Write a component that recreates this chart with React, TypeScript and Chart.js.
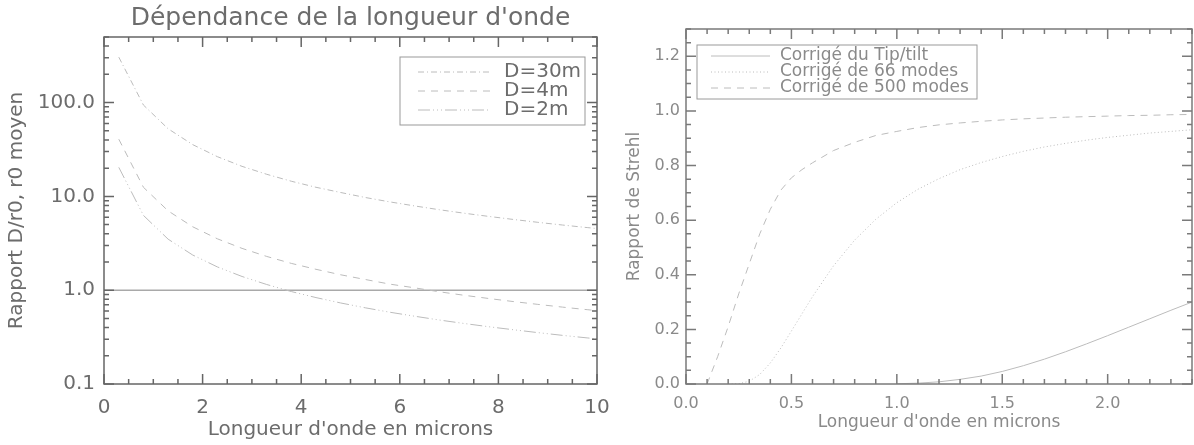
import React, { useEffect, useRef } from "react";
import { Chart, registerables } from "chart.js";
Chart.register(...registerables);

// ---------- Left panel: D/r0 vs wavelength ----------
const LEFT_TITLE = "Dépendance de la longueur d'onde";
const LAMBDA_LEFT = [0.3, 0.8, 1.3, 1.8, 2.3, 2.8, 3.3, 3.8, 4.3, 4.8, 5.3, 5.8, 6.3, 6.8, 7.3, 7.8, 8.3, 8.8, 9.3, 9.8, 10.0];
const D30 = [305, 94.1, 52.6, 35.6, 26.5, 20.9, 17.2, 14.5, 12.5, 11.0, 9.73, 8.73, 7.91, 7.21, 6.62, 6.12, 5.68, 5.29, 4.95, 4.65, 4.54];
const D4 = [40.7, 12.5, 7.01, 4.74, 3.53, 2.79, 2.29, 1.93, 1.67, 1.46, 1.3, 1.16, 1.06, 0.962, 0.883, 0.816, 0.757, 0.706, 0.66, 0.62, 0.606];
const D2 = [20.4, 6.27, 3.5, 2.37, 1.77, 1.4, 1.15, 0.967, 0.834, 0.731, 0.649, 0.582, 0.528, 0.481, 0.442, 0.408, 0.379, 0.353, 0.33, 0.31, 0.303];
const UNITY_X = [0, 10];
const UNITY_Y = [1, 1];
const LEFT_LABELS = ["D=30m", "D=4m", "D=2m"];
const LEFT_X_TICKS = [0, 2, 4, 6, 8, 10];
const LEFT_X_TICK_LABELS = ["0", "2", "4", "6", "8", "10"];
const LEFT_Y_TICKS = [0.1, 1, 10, 100];
const LEFT_Y_TICK_LABELS = ["0.1", "1.0", "10.0", "100.0"];
const LEFT_X_TITLE = "Longueur d'onde en microns";
const LEFT_Y_TITLE = "Rapport D/r0, r0 moyen";

// ---------- Right panel: Strehl vs wavelength ----------
const LAMBDA_TT = [1.0, 1.1, 1.2, 1.3, 1.4, 1.5, 1.6, 1.7, 1.8, 1.9, 2.0, 2.1, 2.2, 2.3, 2.4];
const S_TT = [0.001, 0.003, 0.008, 0.017, 0.029, 0.046, 0.067, 0.091, 0.118, 0.147, 0.177, 0.208, 0.239, 0.27, 0.3];
const LAMBDA_66 = [0.2, 0.25, 0.3, 0.35, 0.4, 0.45, 0.5, 0.6, 0.7, 0.8, 0.9, 1.0, 1.1, 1.2, 1.3, 1.4, 1.5, 1.6, 1.7, 1.8, 1.9, 2.0, 2.1, 2.2, 2.3, 2.4];
const S_66 = [0, 0.001, 0.01, 0.035, 0.077, 0.132, 0.194, 0.32, 0.433, 0.527, 0.603, 0.664, 0.713, 0.752, 0.785, 0.811, 0.833, 0.852, 0.868, 0.881, 0.893, 0.903, 0.911, 0.919, 0.925, 0.931];
const LAMBDA_500 = [0.1, 0.15, 0.2, 0.25, 0.3, 0.35, 0.4, 0.45, 0.5, 0.55, 0.6, 0.7, 0.8, 0.9, 1.0, 1.1, 1.2, 1.3, 1.4, 1.5, 1.6, 1.7, 1.8, 1.9, 2.0, 2.1, 2.2, 2.3, 2.4];
const S_500 = [0, 0.1, 0.21, 0.33, 0.44, 0.55, 0.64, 0.71, 0.755, 0.785, 0.81, 0.855, 0.885, 0.91, 0.925, 0.939, 0.949, 0.956, 0.962, 0.967, 0.971, 0.974, 0.977, 0.979, 0.981, 0.983, 0.984, 0.986, 0.987];
const RIGHT_LABELS = ["Corrigé du Tip/tilt", "Corrigé de 66 modes", "Corrigé de 500 modes"];
const RIGHT_X_TICKS = [0, 0.5, 1.0, 1.5, 2.0];
const RIGHT_X_TICK_LABELS = ["0.0", "0.5", "1.0", "1.5", "2.0"];
const RIGHT_Y_TICKS = [0, 0.2, 0.4, 0.6, 0.8, 1.0, 1.2];
const RIGHT_Y_TICK_LABELS = ["0.0", "0.2", "0.4", "0.6", "0.8", "1.0", "1.2"];
const RIGHT_X_TITLE = "Longueur d'onde en microns";
const RIGHT_Y_TITLE = "Rapport de Strehl";

const FONT = "'DejaVu Sans', sans-serif";

const pts = (xs: number[], ys: number[]) => xs.map((x, i) => ({ x, y: ys[i] }));

function linearMinor(min: number, max: number, step: number) {
  const out: number[] = [];
  const n = Math.round((max - min) / step);
  for (let i = 0; i <= n; i++) out.push(+(min + i * step).toFixed(4));
  return out;
}
function logMinor(minExp: number, maxVal: number) {
  const out: number[] = [];
  for (let e = minExp; e < 4; e++) {
    for (let m = 1; m <= 9; m++) {
      const v = m * Math.pow(10, e);
      if (v <= maxVal) out.push(v);
    }
  }
  return out;
}

const framePlugin = {
  id: "frame",
  afterDraw(chart: any, _args: any, opts: any) {
    const { ctx, chartArea } = chart;
    const { left, right, top, bottom } = chartArea;
    const xs = chart.scales.x;
    const ys = chart.scales.y;
    ctx.save();
    ctx.strokeStyle = opts.color;
    ctx.lineWidth = opts.width;
    ctx.setLineDash([]);
    ctx.beginPath();
    const seg = (x0: number, y0: number, x1: number, y1: number) => {
      ctx.moveTo(x0, y0);
      ctx.lineTo(x1, y1);
    };
    const doX = (vals: number[], len: number) =>
      vals.forEach((v) => {
        const p = xs.getPixelForValue(v);
        if (p < left - 0.5 || p > right + 0.5) return;
        seg(p, bottom, p, bottom - len);
        seg(p, top, p, top + len);
      });
    const doY = (vals: number[], len: number) =>
      vals.forEach((v) => {
        const p = ys.getPixelForValue(v);
        if (p < top - 0.5 || p > bottom + 0.5) return;
        seg(left, p, left + len, p);
        seg(right, p, right - len, p);
      });
    doX(opts.xMinor, opts.minorLen);
    doX(opts.xMajor, opts.majorLen);
    doY(opts.yMinor, opts.minorLen);
    doY(opts.yMajor, opts.majorLen);
    ctx.stroke();
    ctx.strokeRect(left, top, right - left, bottom - top);

    if (opts.title) {
      ctx.fillStyle = opts.title.color;
      ctx.font = `${opts.title.size}px ${FONT}`;
      ctx.textAlign = "center";
      ctx.textBaseline = "middle";
      ctx.fillText(opts.title.text, (left + right) / 2, opts.title.y);
    }

    const lg = opts.legend;
    if (lg) {
      ctx.strokeStyle = lg.boxColor;
      ctx.lineWidth = 1;
      ctx.strokeRect(lg.x, lg.y, lg.w, lg.h);
      ctx.font = `${lg.size}px ${FONT}`;
      ctx.textAlign = "left";
      ctx.textBaseline = "middle";
      lg.items.forEach((di: number, i: number) => {
        const ds = chart.data.datasets[di];
        const yy = lg.rows[i];
        ctx.strokeStyle = ds.borderColor;
        ctx.lineWidth = ds.borderWidth;
        ctx.setLineDash(ds.borderDash || []);
        ctx.beginPath();
        ctx.moveTo(lg.lineX0, yy);
        ctx.lineTo(lg.lineX1, yy);
        ctx.stroke();
        ctx.setLineDash([]);
        ctx.fillStyle = lg.textColor;
        ctx.fillText(ds.label, lg.textX, yy);
      });
    }
    ctx.restore();
  },
};

const LINE = "#bcbcbc";

export default function App() {
  const leftRef = useRef<HTMLCanvasElement>(null);
  const rightRef = useRef<HTMLCanvasElement>(null);

  useEffect(() => {
    const leftText = "#6c6c6c";
    const left = new Chart(leftRef.current!, {
      type: "line",
      data: {
        datasets: [
          { label: LEFT_LABELS[0], data: pts(LAMBDA_LEFT, D30), borderColor: LINE, borderWidth: 1, borderDash: [6, 3, 1, 3], pointRadius: 0, fill: false },
          { label: LEFT_LABELS[1], data: pts(LAMBDA_LEFT, D4), borderColor: LINE, borderWidth: 1, borderDash: [7, 6], pointRadius: 0, fill: false },
          { label: LEFT_LABELS[2], data: pts(LAMBDA_LEFT, D2), borderColor: LINE, borderWidth: 1, borderDash: [12, 3, 1, 3, 1, 3, 1, 3], pointRadius: 0, fill: false },
          { label: "unity", data: pts(UNITY_X, UNITY_Y), borderColor: "#a9a9a9", borderWidth: 1.5, pointRadius: 0, fill: false },
        ],
      },
      options: {
        responsive: false,
        animation: false,
        devicePixelRatio: 1,
        layout: { padding: { left: 0, top: 37, right: 23, bottom: 0 } },
        plugins: {
          legend: { display: false },
          tooltip: { enabled: false },
          frame: {
            color: "#666",
            width: 1.5,
            majorLen: 10,
            minorLen: 5,
            xMajor: LEFT_X_TICKS,
            xMinor: linearMinor(0, 10, 0.5),
            yMajor: LEFT_Y_TICKS,
            yMinor: logMinor(-1, 500),
            title: { text: LEFT_TITLE, size: 25, y: 18, color: leftText },
            legend: {
              x: 400, y: 57, w: 185, h: 68, rows: [72, 91, 110],
              lineX0: 418, lineX1: 490, textX: 504, size: 20,
              boxColor: "#999", textColor: leftText, items: [0, 1, 2],
            },
          },
        } as any,
        scales: {
          x: {
            type: "linear",
            min: 0,
            max: 10,
            grid: { display: false, drawTicks: false },
            border: { display: false },
            afterBuildTicks: (s: any) => { s.ticks = LEFT_X_TICKS.map((v) => ({ value: v })); },
            afterFit: (s: any) => { s.height = 61; s.paddingLeft = 0; s.paddingRight = 0; },
            ticks: {
              autoSkip: false, maxRotation: 0, padding: 12, color: leftText,
              font: { family: FONT, size: 20 },
              callback: (_v: any, i: number) => LEFT_X_TICK_LABELS[i],
            },
            title: { display: true, text: LEFT_X_TITLE, color: leftText, font: { family: FONT, size: 20 }, padding: { top: 0, bottom: 3 } },
          },
          y: {
            type: "logarithmic",
            min: 0.1,
            max: 500,
            grid: { display: false, drawTicks: false },
            border: { display: false },
            afterBuildTicks: (s: any) => { s.ticks = LEFT_Y_TICKS.map((v) => ({ value: v })); },
            afterFit: (s: any) => { s.width = 104; s.paddingTop = 0; s.paddingBottom = 0; },
            ticks: {
              autoSkip: false, padding: 9, color: leftText,
              font: { family: FONT, size: 20 },
              callback: (_v: any, i: number) => LEFT_Y_TICK_LABELS[i],
            },
            title: { display: true, text: LEFT_Y_TITLE, color: leftText, font: { family: FONT, size: 20 }, padding: { top: 5, bottom: 0 } },
          },
        },
      } as any,
      plugins: [framePlugin],
    });

    const rightText = "#8a8a8a";
    const right = new Chart(rightRef.current!, {
      type: "line",
      data: {
        datasets: [
          { label: RIGHT_LABELS[0], data: pts(LAMBDA_TT, S_TT), borderColor: LINE, borderWidth: 1, pointRadius: 0, fill: false },
          { label: RIGHT_LABELS[1], data: pts(LAMBDA_66, S_66), borderColor: LINE, borderWidth: 1, borderDash: [1, 2.5], pointRadius: 0, fill: false },
          { label: RIGHT_LABELS[2], data: pts(LAMBDA_500, S_500), borderColor: LINE, borderWidth: 1, borderDash: [7, 6], pointRadius: 0, fill: false },
        ],
      },
      options: {
        responsive: false,
        animation: false,
        devicePixelRatio: 1,
        layout: { padding: { left: 0, top: 29, right: 2, bottom: 0 } },
        plugins: {
          legend: { display: false },
          tooltip: { enabled: false },
          frame: {
            color: "#7a7a7a",
            width: 1.5,
            majorLen: 10,
            minorLen: 5,
            xMajor: RIGHT_X_TICKS,
            xMinor: linearMinor(0, 2.4, 0.1),
            yMajor: RIGHT_Y_TICKS,
            yMinor: linearMinor(0, 1.3, 0.05),
            legend: {
              x: 97, y: 45, w: 280, h: 54, rows: [56, 72, 88],
              lineX0: 111, lineX1: 170, textX: 180, size: 17,
              boxColor: "#9a9a9a", textColor: rightText, items: [0, 1, 2],
            },
          },
        } as any,
        scales: {
          x: {
            type: "linear",
            min: 0,
            max: 2.4,
            grid: { display: false, drawTicks: false },
            border: { display: false },
            afterBuildTicks: (s: any) => { s.ticks = RIGHT_X_TICKS.map((v) => ({ value: v })); },
            afterFit: (s: any) => { s.height = 61; s.paddingLeft = 0; s.paddingRight = 0; },
            ticks: {
              autoSkip: false, maxRotation: 0, padding: 10, color: rightText,
              font: { family: FONT, size: 16 },
              callback: (_v: any, i: number) => RIGHT_X_TICK_LABELS[i],
            },
            title: { display: true, text: RIGHT_X_TITLE, color: rightText, font: { family: FONT, size: 17 }, padding: { top: 0, bottom: 12 } },
          },
          y: {
            type: "linear",
            min: 0,
            max: 1.3,
            grid: { display: false, drawTicks: false },
            border: { display: false },
            afterBuildTicks: (s: any) => { s.ticks = RIGHT_Y_TICKS.map((v) => ({ value: v })); },
            afterFit: (s: any) => { s.width = 86; s.paddingTop = 0; s.paddingBottom = 0; },
            ticks: {
              autoSkip: false, padding: 6, color: rightText,
              font: { family: FONT, size: 16 },
              callback: (_v: any, i: number) => RIGHT_Y_TICK_LABELS[i],
            },
            title: { display: true, text: RIGHT_Y_TITLE, color: rightText, font: { family: FONT, size: 17 }, padding: { top: 24, bottom: 0 } },
          },
        },
      } as any,
      plugins: [framePlugin],
    });

    return () => {
      left.destroy();
      right.destroy();
    };
  }, []);

  return (
    <div style={{ position: "fixed", left: 0, top: 0, width: 1194, height: 445, background: "#fff" }}>
      <canvas ref={leftRef} width={620} height={445} style={{ position: "absolute", left: 0, top: 0 }} />
      <canvas ref={rightRef} width={594} height={445} style={{ position: "absolute", left: 600, top: 0 }} />
    </div>
  );
}
